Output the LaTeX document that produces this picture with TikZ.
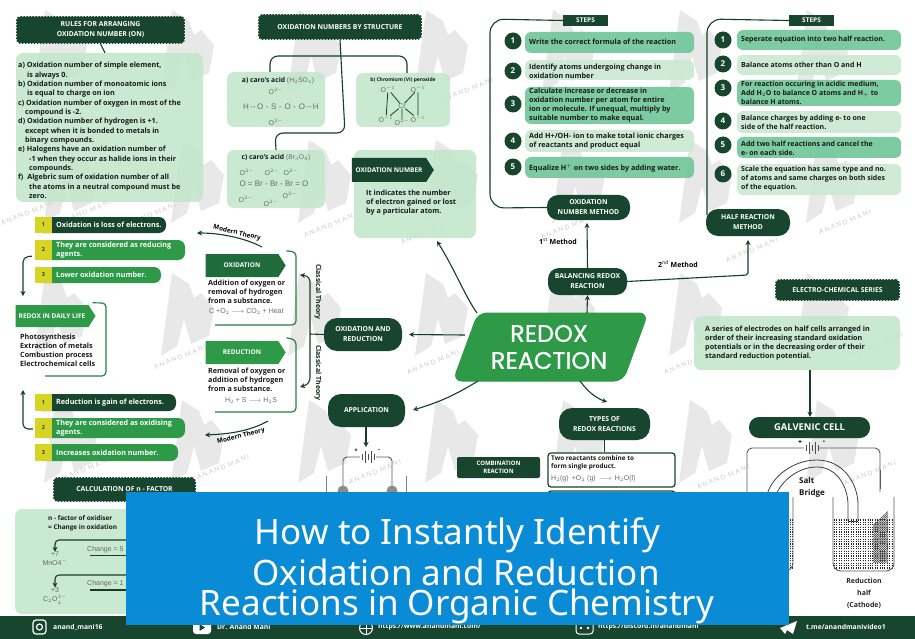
\documentclass[tikz,border=0pt]{standalone}
\usepackage{fontspec}
\setmainfont{Open Sans}
\newfontfamily\titlefont{Noto Sans}
\newfontfamily\bigfont[FakeBold=0.7]{Poppins}
\newfontfamily\wmfont[LetterSpace=25]{Lato}
\newfontfamily\chemfont{Liberation Sans}
\usetikzlibrary{arrows.meta,shapes.symbols,calc}
\definecolor{dkgreen}{HTML}{17452E}
\definecolor{midgreen}{HTML}{2E9A48}
\definecolor{ogreen}{HTML}{1F6B3A}
\definecolor{palegreen}{HTML}{C2E6CB}
\definecolor{stepa}{HTML}{72C79A}
\definecolor{stepb}{HTML}{CBEAD2}
\definecolor{banner}{HTML}{0A8BD6}
\definecolor{wmgrey}{HTML}{E8E8E8}
\definecolor{tagyellow}{HTML}{D8D425}
\definecolor{chemgrey}{HTML}{6A6A6A}
\tikzset{
  dkbox/.style={fill=dkgreen,text=white,rounded corners=#1,align=center,font=\fontsize{6.8}{10}\selectfont\bfseries},
  dkbox/.default=10pt,
  serr/.style={fill=dkgreen,draw=dkgreen,line width=1.6pt,dash pattern=on 1.6pt off 1.4pt,rounded corners=3pt,text=white,align=center,font=\fontsize{6.8}{10}\selectfont\bfseries},
  pale/.style={fill=palegreen,fill opacity=.88,rounded corners=7pt},
  stepbox/.style={fill=#1,fill opacity=.92,rounded corners=6pt},
  num/.style={circle,fill=dkgreen,text=white,inner sep=0pt,minimum size=17pt,font=\fontsize{8}{8}\selectfont\bfseries},
  body/.style={anchor=west,align=left,inner sep=0pt,text=black!90,font=\fontsize{7.2}{9}\selectfont\bfseries},
  lite/.style={anchor=west,align=left,inner sep=0pt,text=white,font=\fontsize{7.2}{9}\selectfont\bfseries},
  chem/.style={inner sep=0pt,text=chemgrey,font=\fontsize{7}{8}\chemfont},
  tagp/.style={signal,signal to=east,signal pointer angle=115,fill=#1,text=white,inner sep=0pt,font=\fontsize{6.5}{9}\selectfont\bfseries},
  link/.style={draw=dkgreen!90!black,line width=1.1pt,rounded corners=8pt},
  arr/.style={draw=dkgreen!90!black,line width=1.1pt,-{Stealth[length=5pt,width=5pt]}},
  brk/.style={draw=midgreen!70!dkgreen,line width=1.2pt,rounded corners=4pt},
  hand/.style={inner sep=0pt,text=dkgreen!70!black,font=\fontsize{7}{8}\selectfont\bfseries},
  foot/.style={anchor=west,inner sep=0pt,text=white,font=\fontsize{6.8}{8}\selectfont\bfseries},
  yeltag/.style={fill=tagyellow,text=dkgreen,inner sep=0pt,font=\fontsize{5.5}{6}\selectfont\bfseries}
}
\newcommand\bx[7]{\node[#6,inner sep=0pt,minimum width={(#4-#2)*1pt},minimum height={(#5-#3)*1pt}] (#1) at ({(#2+#4)/2},{(#3+#5)/2}) {#7};}
\newcommand\itembar[8]{%
  \bx{#1}{#2}{#3}{#4}{#5}{fill=#6,rounded corners=7pt}{}
  \bx{#1t}{#2}{#3-1}{#2+17}{#5+1}{yeltag}{#7}
  \node[lite] (#1x) at ({#2+21},{(#3+#5)/2}) {#8};}
\newcommand\wmark[2]{\fill[wmgrey] (#1,#2) -- ++(17,11) -- ++(5,14) -- ++(7,-5) -- ++(13,15) -- ++(-5,28) -- ++(-18,8) -- ++(-7,-25) -- ++(-7,27) -- ++(-16,10) -- cycle;}
\newcommand\hatchblock[4]{\begin{scope}\clip (#1,#2) rectangle (#3,#4);
  \foreach \k in {0,2,...,100}{\draw[black!70,line width=.6pt] ({#1+\k-40},#4) -- ({#1+\k+40},#2);}
  \end{scope}}
% x1,y1,x2, number of rows
\newcommand\dotrows[4]{\foreach \k in {0,...,#4}{\draw[black!85,line width=1.1pt,dash pattern=on 1pt off 1.4pt] (#1,{#2+2.4*\k}) -- (#3,{#2+2.4*\k});}}
\begin{document}
\begin{tikzpicture}[x=1pt,y=-1pt]
\useasboundingbox (0,0) rectangle (915,639);
\fill[white] (0,0) rectangle (915,639);
% watermark
\foreach \r/\yy/\xs in {0/10/45,1/140/55,2/273/45,3/400/55}{
  \foreach \c in {-1,0,...,6}{
    \pgfmathsetmacro\xx{\xs+127*\c}
    \wmark{\xx}{\yy}
  }
}
\foreach \x/\y [count=\i] in {85/212,150/215,330/225,427/232,567/227,752/250,845/222,27/213,180/357,83/470,223/467,433/362,375/472,723/477,870/473,690/362,467/90,877/345}{
  \node[inner sep=0pt,rotate=22,text=black!20,font=\fontsize{6.5}{7}\wmfont] (wm\i) at (\x,\y) {ANAND MANI};
}
% ===== top-left rules
\bx{rulesh}{17}{17}{184}{43}{serr}{RULES FOR ARRANGING\\OXIDATION NUMBER (ON)}
\bx{rulesb}{16}{53}{203}{202}{pale}{}
\draw[link] (rulesh.south) -- (105,53) coordinate (rulesend);
\node[body,anchor=north west,font=\fontsize{7.2}{9.35}\selectfont\bfseries] (rulest) at (18,62) {a) Oxidation number of simple element,\\\hspace{9pt}is always 0.\\b) Oxidation number of monoatomic ions\\\hspace{9pt}is equal to charge on ion\\c) Oxidation number of oxygen in most of the\\\hspace{7pt}compound is -2.\\d) Oxidation number of hydrogen is +1.\\\hspace{7pt}except when it is bonded to metals in\\\hspace{7pt}binary compounds.\\e) Halogens have an oxidation number of\\\hspace{11pt}-1 when they occur as halide ions in their\\\hspace{11pt}compounds.\\f) \;Algebric sum of oxidation number of all\\\hspace{11pt}the atoms in a neutral compound must be\\\hspace{11pt}zero.};
% ===== oxidation numbers by structure
\bx{structh}{259}{15}{421}{39}{serr}{OXIDATION NUMBERS BY STRUCTURE}
\bx{boxa}{227}{72}{325}{127}{pale}{}
\bx{boxb}{356}{73}{450}{127}{pale}{}
\bx{boxc}{227}{150}{325}{208}{pale}{}
\coordinate (s1) at (345,56);
\draw[link] (boxa.north -| 270,72) |- (s1) -| (boxb.north -| 407,73);
\draw[link] (structh.south) -- (345,133) -- (275,133) -- (boxc.north);
\node[body,anchor=center,font=\fontsize{6.8}{8}\selectfont\bfseries] (at) at (278,81) {a) caro's acid \textcolor{chemgrey}{\normalfont\chemfont(H$_2$SO$_4$)}};
\node[chem] (a1) at (276,91) {O$^{2-}$};
\node[chem,font=\fontsize{8}{8}\chemfont] (a2) at (281,107) {H\,--\,O\,\,-\,\,S\,\,-\,\,O\,\,-\,\,O\,--\,H};
\node[chem] (a3) at (276,122) {O$^{2-}$};
\node[body,anchor=center,font=\fontsize{5}{7}\selectfont\bfseries] (bt) at (403,80) {b) Chromium (VI) peroxide};
\node[chem] (b0) at (402,106) {Cr};
\node[chem] (b1) at (388,89) {O$^{-1}$};
\node[chem] (b2) at (418,89) {O$^{-1}$};
\node[chem] (b3) at (386,119) {O$^{-1}$};
\node[chem] (b4) at (402,122) {O$^{2-}$};
\node[chem] (b5) at (418,119) {O$^{-1}$};
\draw[link,rounded corners=0pt,line width=.8pt] (b1) -- (b3) (b2) -- (b5) (b0) -- (b1) (b0) -- (b2) (b0) -- (b3) (b0) -- (b4) (b0) -- (b5);
\node[body,anchor=center,font=\fontsize{6.8}{8}\selectfont\bfseries] (ct) at (276,158) {c) caro's acid \textcolor{chemgrey}{\normalfont\chemfont(Br$_3$O$_8$)}};
\node[chem,font=\fontsize{8}{8}\chemfont] (c0) at (274,184) {O = Br - Br - Br = O};
\foreach \n/\x/\y in {c1/247/172,c2/272/172,c3/291/172,c4/246/199,c5/271/203,c6/290/195}{\node[chem] (\n) at (\x,\y) {O$^{2-}$};}
% ===== oxidation number definition
\bx{onb}{354}{150}{476}{238}{pale}{}
\node[tagp=dkgreen,minimum width=82pt,minimum height=24pt] (ont) at (389,170) {OXIDATION NUMBER};
\node[body] (ontx) at (366,203) {It indicates the number\\of electron gained or lost\\by a particular atom.};
% ===== steps left
\bx{st1}{563}{15}{608}{26}{fill=dkgreen,text=white,font=\fontsize{6.5}{8}\selectfont\bfseries}{STEPS}
\foreach \i/\a/\b/\c/\y in {1/32/53/stepa/41,2/60/80/stepb/71,3/87/124/stepa/104,4/130/152/stepb/141,5/157/178/stepa/167}{
  \bx{sl\i}{525}{\a}{694}{\b}{stepbox=\c}{}
  \node[num] (nl\i) at (513,\y) {\i};
}
\node[body] (slt1) at (529,42) {Write the correct formula of the reaction};
\node[body] (slt2) at (529,71) {Identify atoms undergoing change in\\oxidation number};
\node[body] (slt3) at (529,105) {Calculate increase or decrease in\\oxidation number per atom for entire\\ion or molecule. If unequal, multiply by\\suitable number to make equal.};
\node[body] (slt4) at (529,141) {Add H+/OH- ion to make total ionic charges\\of reactants and product equal};
\node[body] (slt5) at (529,168) {Equalize H$^+$ on two sides by adding water.};
\bx{onm}{547}{195}{630}{220}{dkbox=11pt}{OXIDATION\\NUMBER METHOD}
\draw[link,rounded corners=14pt] (st1.west) -- (490,19) -- (490,208) -- (onm.west);
% ===== steps right
\bx{st2}{789}{15}{834}{26}{fill=dkgreen,text=white,font=\fontsize{6.5}{8}\selectfont\bfseries}{STEPS}
\foreach \i/\a/\b/\c/\y in {1/30/50/stepa/40,2/55/75/stepb/64,3/80/106/stepa/88,4/111/133/stepb/121,5/137/158/stepa/145,6/164/195/stepb/174}{
  \bx{sr\i}{737}{\a}{901}{\b}{stepbox=\c}{}
  \node[num] (nr\i) at (723,\y) {\i};
}
\node[body,font=\fontsize{7}{9}\selectfont\bfseries] (srt1) at (741,40) {Seperate equation into two half reaction.};
\node[body,font=\fontsize{7}{9}\selectfont\bfseries] (srt2) at (741,65) {Balance atoms other than O and H};
\node[body,font=\fontsize{7}{9}\selectfont\bfseries] (srt3) at (741,93) {For reaction occuring in acidic medium,\\Add H$_2$O to balance O atoms and H$_+$ to\\balance H atoms.};
\node[body,font=\fontsize{7}{9}\selectfont\bfseries] (srt4) at (741,122) {Balance charges by adding e- to one\\side of the half reaction.};
\node[body,font=\fontsize{7}{9}\selectfont\bfseries] (srt5) at (741,148) {Add two half reactions and cancel the\\e- on each side.};
\node[body,font=\fontsize{7}{9}\selectfont\bfseries] (srt6) at (741,179) {Scale the equation has same type and no.\\of atoms and same charges on both sides\\of the equation.};
\bx{hrm}{706}{209}{790}{236}{dkbox=12pt}{HALF REACTION\\METHOD}
\draw[link,rounded corners=14pt] (st2.west) -- (707,19) -- (707,215) coordinate (hend);
% ===== centre
\draw[fill=midgreen,draw=midgreen,line width=1pt,rounded corners=9pt] (478,313) -- (648,313) -- (623,381) -- (453,381) -- cycle;
\node[inner sep=0pt,text=white,align=center,font=\fontsize{24}{27}\bigfont] (redox) at (549,347) {REDOX\\REACTION};
\bx{bal}{548}{268}{627}{295}{dkbox=11pt}{BALANCING REDOX\\REACTION}
\draw[arr] (587,313) -- (bal.south);
\draw[arr] (bal.north) -- (587,223) coordinate (onmend);
\node[inner sep=0pt,text=black,font=\fontsize{7}{8}\selectfont\bfseries] (m1) at (558,241) {1$^{\mathrm{st}}$ Method};
\node[inner sep=0pt,text=black,font=\fontsize{7}{8}\selectfont\bfseries] (m2) at (678,264) {2$^{\mathrm{nd}}$ Method};
\draw[link,rounded corners=2pt,-{Stealth[length=5pt,width=5pt]}] (bal.east) -- (748,275) -- (748,240);
\draw[arr] (477,313) .. controls (465,296) and (455,270) .. (437,241);
\bx{oxred}{324}{318}{402}{351}{dkbox=13pt}{OXIDATION AND\\REDUCTION}
\draw[arr] (465,335) -- (oxred.east -| 409,335);
\bx{appl}{328}{394}{405}{427}{dkbox=13pt}{APPLICATION}
\draw[arr] (478,381) .. controls (455,395) and (440,402) .. (413,410);
\bx{types}{559}{408}{650}{440}{dkbox=13pt}{TYPES OF\\REDOX REACTIONS}
\draw[arr] (580,381) .. controls (588,392) and (596,398) .. (607,402);
% ===== combination
\bx{comb}{457}{457}{540}{478}{fill=dkgreen,text=white,align=center,font=\fontsize{6}{8}\selectfont\bfseries,rounded corners=2pt}{COMBINATION\\REACTION}
\bx{combb}{548}{453}{675}{487}{draw=dkgreen,line width=1.3pt,fill=white,rounded corners=3pt}{}
\draw[link] (types.south) -- (combb.north -| types.south);
\node[body,font=\fontsize{6.4}{8}\selectfont\bfseries] (combt) at (551,463) {Two reactants combine to\\form single product.};
\node[chem,anchor=west] (combf) at (551,478.5) {H$_2$(g) \,+O$_2$ (g) \,$\longrightarrow$\, H$_2$O(l)};
\bx{comb2}{548}{491}{675}{520}{draw=dkgreen,line width=1.3pt,fill=white,rounded corners=3pt}{}
% ===== electro chem
\bx{ecs}{776}{280}{899}{300}{serr}{ELECTRO-CHEMICAL SERIES}
\bx{ecb}{694}{316}{900}{370}{pale}{}
\node[body] (ect) at (705,343) {A series of electrodes on half cells arranged in\\order of their increasing standard oxidation\\potentials or in the decreasing order of their\\standard reduction potential.};
\bx{gal}{749}{417}{870}{438}{dkbox=10pt,font=\fontsize{9.4}{11}\selectfont\bfseries}{GALVENIC CELL}
\draw[arr,line width=1.4pt] (ecb.south -| 810,370) -- (gal.north -| 810,413);
% galvanic circuit
\coordinate (gl) at (747,492); \coordinate (gr) at (880,492);
\draw[black!65,line width=.9pt,rounded corners=5pt] (gl) -- (747,448) -- (804,448) (819,448) -- (880,448) -- (gr);
\foreach \xb/\hb in {806/3,809/6,812/3,815/6,818/3}{\draw[black!70,line width=.9pt] (\xb,448-\hb) -- (\xb,448+\hb);}
\node[inner sep=0pt,font=\fontsize{7}{7}\selectfont\bfseries] (gp) at (800,442) {+};
\node[inner sep=0pt,font=\fontsize{7}{7}\selectfont\bfseries] (gm) at (824,442) {-};
\draw[black!75,line width=.8pt] (766,540) -- (767,495) .. controls (771,478) and (792,460) .. (817,460) .. controls (842,460) and (858,482) .. (858,505) -- (858,521);
\draw[black!75,line width=.8pt] (773,540) -- (776,495) .. controls (781,482) and (797,467) .. (817,467) .. controls (837,467) and (848,487) .. (848,505) -- (848,521);
\draw[black!75,line width=.8pt] (848,521) -- (858,521);
\node[body,font=\fontsize{8}{12}\selectfont\bfseries] (sb) at (799,487) {Salt\\Bridge};
\dotrows{834}{520}{894}{20}
\dotrows{780}{520}{793}{20}
\draw[black!65,line width=.9pt,rounded corners=8pt] (833,497) -- (833,571) -- (894,571) -- (894,497);
\draw[black!65,line width=.9pt,rounded corners=8pt] (793,497) -- (793,571) -- (760,571);
\hatchblock{873}{488}{888}{563}
\hatchblock{742}{489}{752}{500}
\draw[black!65,line width=.9pt] (880,470) -- (880,489);
\node[inner sep=0pt,align=center,text=black!85,font=\fontsize{7}{12}\selectfont\bfseries] (rh) at (864,593) {Reduction\\half\\(Cathode)};
% ===== left items
\itembar{i1}{35}{217}{166}{233}{dkgreen}{1}{Oxidation is loss of electrons.}
\itembar{i2}{35}{240}{185}{260}{midgreen}{2}{They are considered as reducing\\agents.}
\itembar{i3}{35}{267}{161}{283}{midgreen}{3}{Lower oxidation number.}
\draw[link,rounded corners=5pt,-{Stealth[length=5pt,width=5pt]}] (i2.south west) ++(-3,-4) -- (23,257) -- (23,296);
\node[tagp=midgreen,minimum width=80pt,minimum height=22pt] (life) at (52,316) {REDOX IN DAILY LIFE};
\draw[brk] (life.north east) ++(4,-2) -- (106,303) -- (106,376) -- (45,376);
\node[body] (lifet) at (20,350) {Photosynthesis\\Extraction of metals\\Combustion process\\Electrochemical cells};
\itembar{i4}{35}{394}{176}{411}{dkgreen}{1}{Reduction is gain of electrons.}
\itembar{i5}{35}{418}{185}{438}{midgreen}{2}{They are considered as oxidising\\agents.}
\itembar{i6}{35}{444}{178}{461}{midgreen}{3}{Increases oxidation number.}
\draw[link,rounded corners=5pt,-{Stealth[length=5pt,width=5pt]}] (i5.west) ++(-2,1) -- (23,429) -- (23,390);
% ===== oxidation / reduction
\node[tagp=ogreen,minimum width=80pt,minimum height=23pt] (oxi) at (242,265.5) {OXIDATION};
\draw[brk] (oxi.north east) ++(8,-3) -- (296,252) -- (296,325) -- (215,325);
\node[body] (oxit) at (208,291.5) {Addition of oxygen or\\removal of hydrogen\\from a substance.};
\node[chem,anchor=west] (oxif) at (209,312) {C +O$_2$ $\longrightarrow$ CO$_2$ + Heat};
\node[tagp=midgreen,minimum width=80pt,minimum height=23pt] (red) at (242,352.5) {REDUCTION};
\draw[brk] (red.north east) ++(8,-3) -- (296,340) -- (296,412) -- (215,412);
\node[body] (redt) at (208,379.5) {Removal of oxygen or\\addition of hydrogen\\from a substance.};
\node[chem,anchor=center] (redf) at (251,401) {H$_2$ + S $\longrightarrow$ H$_2$S};
\coordinate (cj) at (310,334);
\draw[link] (oxred.west) -- (cj);
\draw[link,rounded corners=6pt,-{Stealth[length=5pt,width=5pt]}] (cj) -- (310,276) -- (300,275);
\draw[link,rounded corners=6pt,-{Stealth[length=5pt,width=5pt]}] (cj) -- (310,384) -- (300,387);
\node[hand,rotate=-90] (th1) at (318,292) {Classical Theory};
\node[hand,rotate=-90] (th2) at (318,373) {Classical Theory};
\node[hand,rotate=-14,text=black,font=\fontsize{6.4}{8}\selectfont\bfseries] (mt1) at (237,233) {Modern Theory};
\draw[arr] (262,247) .. controls (245,238) and (220,233) .. (197,233);
\node[hand,rotate=14,text=black,font=\fontsize{6.4}{8}\selectfont\bfseries] (mt2) at (241,436) {Modern Theory};
\draw[arr] (268,421) .. controls (250,431) and (230,434) .. (205,435);
% ===== application circuit
\draw[arr,line width=1.4pt] (appl.south -| 366,432) -- (366,447);
\draw[black!65,line width=.9pt,rounded corners=4pt] (343,486) -- (343,457) -- (360,457) (376,457) -- (392,457) -- (392,486);
\foreach \xb/\hb in {362/3,365/6,368/3,371/6,374/3}{\draw[black!70,line width=.9pt] (\xb,457-\hb) -- (\xb,457+\hb);}
\node[inner sep=0pt,font=\fontsize{6}{6}\selectfont\bfseries] (ap) at (356,451) {+};
\node[inner sep=0pt,font=\fontsize{6}{6}\selectfont\bfseries] (am) at (379,451) {-};
\draw[black!50,line width=1pt] (326,476) -- (326,495) (406,476) -- (406,495);
\fill[black!45] (343,491) circle[radius=5.5];
\fill[black!45] (392,491) circle[radius=5.5];
% ===== n factor
\bx{nf}{54}{478}{195}{501}{serr}{CALCULATION OF n - FACTOR}
\bx{nfb}{15}{509}{135}{614}{pale}{}
\node[body,font=\fontsize{6.4}{9}\selectfont\bfseries] (nft) at (48,523.5) {n - factor of oxidiser\\= Change in oxidation};
\node[chem,align=center] (mn) at (55,560) {+7\\[1pt]MnO4$^-_{\ }$};
\node[chem,align=center] (co) at (55,596) {+3\\[1pt]C$_2$O$_4^{2-}$};
\draw[arr,rounded corners=4pt] (130,540) -- (55,540) -- (mn.north);
\draw[arr,rounded corners=4pt] (130,575) -- (55,575) -- (co.north);
\node[chem,anchor=west] (ch1) at (87,550) {Change = 5};
\node[chem,anchor=west] (ch2) at (87,584) {Change = 1};
\draw[link] (90,555.5) coordinate (u1) -- (130,555.5);
\draw[link] (90,590) coordinate (u2) -- (130,590);
% ===== footer
\fill[dkgreen] (0,616) rectangle (915,639);
\draw[white,line width=1.2pt,rounded corners=3pt] (33,620) rectangle (46,634);
\draw[white,line width=1.2pt] (39.5,627) circle[radius=3];
\node[foot] (f1) at (53,627) {anand\_mani16};
\fill[white,rounded corners=3pt] (193,621) rectangle (211,634);
\fill[dkgreen] (199.5,624) -- (205,627.5) -- (199.5,631) -- cycle;
\node[foot] (f2) at (217,627) {Dr. Anand Mani};
\draw[white,line width=1pt] (366,628) circle[radius=6.5];
\draw[white,line width=.6pt] (359.5,628) -- (372.5,628) (366,621.5) -- (366,634.5);
\node[foot] (f3) at (378,627) {https://www.anandmani.com/};
\draw[white,line width=1pt,rounded corners=3pt] (576,621) rectangle (593,634);
\fill[white] (581,628) circle[radius=1.4] (588,628) circle[radius=1.4];
\node[foot] (f4) at (598,627) {https://discord.in/anandmani};
\fill[white] (780,628) -- (797,621) -- (793,634) -- (787,630) -- (785,634) -- cycle;
\node[foot] (f5) at (806,627) {t.me/anandmanivideo1};
% ===== banner
\fill[banner] (126,492) rectangle (789,625);
\node[inner sep=0pt,text=white,font=\fontsize{35}{35}\titlefont] (t1) at (457.5,535) {How to Instantly Identify};
\node[inner sep=0pt,text=white,font=\fontsize{35}{35}\titlefont] (t2) at (456,572) {Oxidation and Reduction};
\node[inner sep=0pt,text=white,font=\fontsize{35}{35}\titlefont] (t3) at (457,606) {Reactions in Organic Chemistry};
\end{tikzpicture}
\end{document}
